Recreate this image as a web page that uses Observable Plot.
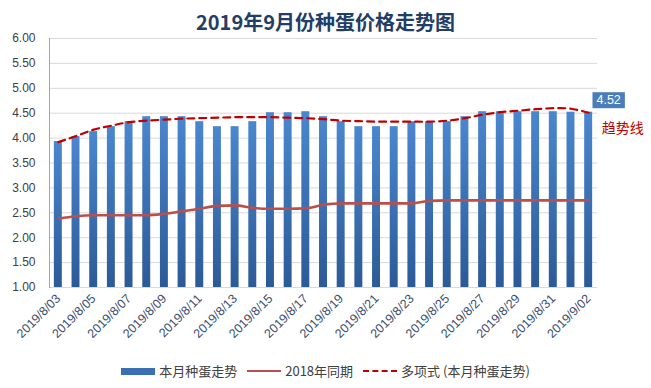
<!DOCTYPE html>
<html><head><meta charset="utf-8">
<script src="https://cdn.jsdelivr.net/npm/d3@7"></script>
<script src="https://cdn.jsdelivr.net/npm/@observablehq/plot@0.6"></script>
<style>
body{margin:0;background:#fff;width:651px;height:388px;overflow:hidden;position:relative;font-family:"Liberation Sans","Noto Sans CJK SC",sans-serif;}
#title{position:absolute;top:8px;left:0;width:651px;text-align:center;font:bold 20px/28px "Noto Sans CJK SC",sans-serif;color:#223d66;}
#chart{position:absolute;top:30px;left:0;}
#legend{position:absolute;top:362px;left:0;width:651px;height:18px;display:flex;justify-content:center;align-items:center;font:13px/18px "Noto Sans CJK SC",sans-serif;color:#404040;}
#legend .sw{display:inline-block;width:34px;margin-right:4px;}
#legend .it{margin-right:10px;}
</style></head>
<body>
<div id="title">2019年9月份种蛋价格走势图</div>
<div id="chart"></div>
<div id="legend">
  <span class="sw" style="height:7px;background:#3a6fb3;"></span><span class="it">本月种蛋走势</span>
  <span class="sw" style="height:0;border-top:2px solid #b9504c;"></span><span class="it">2018年同期</span>
  <span class="sw" style="height:0;border-top:2.5px dashed #c00000;"></span><span>多项式 (本月种蛋走势)</span>
</div>
<script>
const dates = ["2019/8/03","2019/8/04","2019/8/05","2019/8/06","2019/8/07","2019/8/08","2019/8/09","2019/8/10","2019/8/11","2019/8/12","2019/8/13","2019/8/14","2019/8/15","2019/8/16","2019/8/17","2019/8/18","2019/8/19","2019/8/20","2019/8/21","2019/8/22","2019/8/23","2019/8/24","2019/8/25","2019/8/26","2019/8/27","2019/8/28","2019/8/29","2019/8/30","2019/8/31","2019/9/01","2019/9/02"];
const prices = [3.93,4.03,4.13,4.23,4.33,4.43,4.43,4.43,4.33,4.23,4.23,4.33,4.51,4.51,4.53,4.43,4.33,4.23,4.23,4.23,4.33,4.33,4.33,4.43,4.53,4.53,4.53,4.53,4.53,4.52,4.52];
const lastYear = [2.38,2.43,2.45,2.45,2.45,2.45,2.48,2.53,2.58,2.64,2.65,2.60,2.58,2.58,2.59,2.66,2.69,2.69,2.69,2.69,2.69,2.74,2.75,2.75,2.75,2.75,2.75,2.75,2.75,2.75,2.75];
const trend = [3.92,4.04,4.17,4.25,4.32,4.35,4.37,4.39,4.40,4.41,4.42,4.42,4.42,4.41,4.40,4.38,4.35,4.34,4.33,4.33,4.33,4.33,4.35,4.40,4.47,4.52,4.55,4.58,4.60,4.59,4.51];
const yTicks = [1,1.5,2,2.5,3,3.5,4,4.5,5,5.5,6];
const xTicks = dates.filter((d,i)=>i%2===0);

const data = dates.map((d,i)=>({date:d, price:prices[i], last:lastYear[i], trend:trend[i]}));
const lastPt = data[data.length-1];

const plot = Plot.plot({
  width:651, height:330, marginTop:8, marginBottom:73, marginLeft:49, marginRight:54,
  style:{fontFamily:'"Liberation Sans","Noto Sans CJK SC",sans-serif', background:"transparent"},
  x:{type:"band", domain:dates, paddingInner:0.55, paddingOuter:0.275, round:false, label:null},
  y:{domain:[1,6], label:null},
  marks:[
    Plot.gridY(yTicks,{stroke:"#d9d9d9", strokeOpacity:1}),
    Plot.frame({anchor:"left", stroke:"#a6a6a6"}),
    Plot.barY(data,{x:"date", y1:1, y2:"price", fill:"url(#barGrad)"}),
    Plot.line(data,{x:"date", y:"last", stroke:"#b9504c", strokeWidth:2.6, curve:"monotone-x"}),
    Plot.line(data,{x:"date", y:"trend", stroke:"#c00000", strokeWidth:2.2, strokeDasharray:"7,5", curve:"catmull-rom"}),
    Plot.axisY(yTicks,{tickSize:0, tickPadding:14, tickFormat:d=>d.toFixed(2), fontSize:12, fill:"#404040", label:null}),
    Plot.axisX(xTicks,{tickSize:0, tickPadding:9, tickRotate:-45, fontSize:12.5, fill:"#3a4d6e", label:null}),
    Plot.text([lastPt],{x:"date", y:"price", text:d=>d.price.toFixed(2), dx:20, dy:-12, fill:"white", fontSize:12.5, className:"valbox"}),
    Plot.text([lastPt],{x:"date", y:"trend", text:()=> "趋势线", dx:34, dy:16, fill:"#c00000", fontSize:14, fontFamily:'"Noto Sans CJK SC",sans-serif'})
  ]
});
document.getElementById("chart").appendChild(plot);

const svg = d3.select(plot);
const defs = svg.insert("defs",":first-child");
const grad = defs.append("linearGradient").attr("id","barGrad").attr("x1",0).attr("y1",0).attr("x2",0).attr("y2",1);
grad.append("stop").attr("offset","0%").attr("stop-color","#4a87cf");
grad.append("stop").attr("offset","100%").attr("stop-color","#2c5a97");

svg.selectAll("g.valbox text").each(function(){
  const b = this.getBBox();
  const t = d3.select(this);
  d3.select(this.parentNode).insert("rect", () => this)
    .attr("x", b.x-4).attr("y", b.y-1).attr("width", b.width+8).attr("height", b.height+2)
    .attr("fill","#4a7ebb").attr("transform", t.attr("transform"));
});
</script>
</body></html>
